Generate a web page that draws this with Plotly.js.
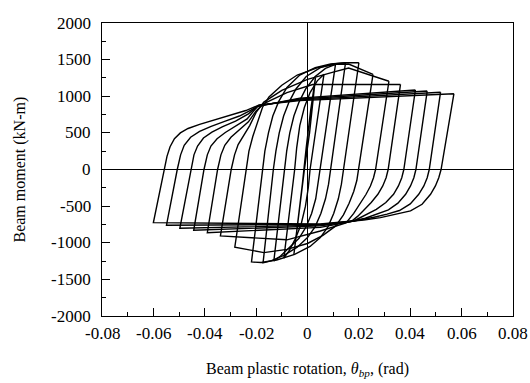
<!DOCTYPE html>
<html>
<head>
<meta charset="utf-8">
<script src="https://cdn.plot.ly/plotly-3.0.1.min.js"></script>
<style>html,body{margin:0;padding:0;background:#fff;}#chart{width:530px;height:383px;}</style>
</head>
<body>
<div id="chart"></div>
<script>
// Beam plastic rotation (rad) and beam moment (kN-m), one closed loop per cycle
// (positive peak -> descending branch -> negative peak -> ascending branch -> positive peak)
const c1Rot = [0.0031, 0.0008, -0.0012, -0.0030, -0.0053, -0.0036, -0.0020, -0.0005, 0.0012, 0.0031];
const c1Mom = [1253, 500, 0, -500, -1160, -700, -200, 300, 800, 1253];

const c2Rot = [0.0064, 0.0010, 0.0003, -0.0008, -0.0025, -0.0048, -0.0070, -0.0092, -0.0050, -0.0042, -0.0030, -0.0012, 0.0010, 0.0038, 0.0064];
const c2Mom = [1300, 0, -250, -500, -750, -950, -1100, -1210, 0, 300, 600, 850, 1050, 1210, 1300];

const c3Rot = [0.0109, 0.0050, 0.0043, 0.0032, 0.0016, -0.0005, -0.0033, -0.0070, -0.0105, -0.0131, -0.0090, -0.0081, -0.0069, -0.0053, -0.0033, -0.0007, 0.0030, 0.0070, 0.0109];
const c3Mom = [1435, 0, -200, -400, -600, -780, -940, -1070, -1180, -1247, 0, 250, 500, 730, 920, 1100, 1270, 1380, 1435];

const c4Rot = [0.0148, 0.0090, 0.0082, 0.0070, 0.0052, 0.0030, 0.0000, -0.0040, -0.0090, -0.0140, -0.0173, -0.0133, -0.0123, -0.0110, -0.0093, -0.0072, -0.0045, -0.0005, 0.0050, 0.0100, 0.0148];
const c4Mom = [1457, 0, -200, -400, -600, -780, -930, -1060, -1170, -1245, -1275, 0, 250, 500, 730, 920, 1100, 1270, 1390, 1440, 1457];

const c5Rot = [0.0200, 0.0140, 0.0132, 0.0120, 0.0102, 0.0080, 0.0050, 0.0010, -0.0050, -0.0120, -0.0180, -0.0218, -0.0176, -0.0166, -0.0152, -0.0135, -0.0112, -0.0080, -0.0030, 0.0030, 0.0090, 0.0150, 0.0200];
const c5Mom = [1457, 0, -200, -400, -600, -780, -930, -1050, -1160, -1235, -1270, -1262, 0, 250, 500, 730, 930, 1120, 1290, 1390, 1440, 1457, 1457];

const c6Rot = [0.0255, 0.0200, 0.0192, 0.0180, 0.0162, 0.0140, 0.0110, 0.0060, 0.0000, -0.0080, -0.0170, -0.0283, -0.0240, -0.0228, -0.0213, -0.0195, -0.0175, -0.0150, -0.0100, -0.0040, 0.0040, 0.0110, 0.0160, 0.0255];
const c6Mom = [1300, 0, -150, -300, -460, -620, -770, -900, -1010, -1090, -1135, -1060, 0, 250, 450, 650, 850, 990, 1150, 1290, 1390, 1435, 1440, 1300];

const c7Rot = [0.0317, 0.0265, 0.0257, 0.0245, 0.0228, 0.0205, 0.0180, 0.0150, 0.0050, -0.0080, -0.0339, -0.0297, -0.0284, -0.0270, -0.0250, -0.0225, -0.0200, -0.0170, -0.0100, 0.0000, 0.0100, 0.0160, 0.0317];
const c7Mom = [1205, 0, -112, -225, -338, -470, -600, -730, -840, -960, -907, 0, 200, 340, 460, 600, 780, 920, 1080, 1230, 1330, 1385, 1205];

const c8Rot = [0.0362, 0.0314, 0.0306, 0.0293, 0.0274, 0.0248, 0.0218, 0.0195, 0.0170, 0.0050, -0.0390, -0.0350, -0.0337, -0.0322, -0.0298, -0.0265, -0.0230, -0.0200, -0.0170, -0.0080, 0.0020, 0.0362];
const c8Mom = [1162, 0, -112, -225, -338, -450, -560, -640, -710, -790, -862, 0, 200, 330, 440, 540, 650, 800, 900, 1050, 1160, 1162];

const c9Rot = [0.0420, 0.0375, 0.0367, 0.0354, 0.0335, 0.0305, 0.0268, 0.0225, 0.0180, 0.0050, -0.0443, -0.0403, -0.0390, -0.0376, -0.0352, -0.0320, -0.0280, -0.0235, -0.0195, -0.0030, 0.0420];
const c9Mom = [1085, 0, -112, -225, -338, -450, -545, -620, -703, -770, -830, 0, 200, 320, 420, 505, 590, 690, 860, 975, 1085];

const c10Rot = [0.0466, 0.0422, 0.0414, 0.0401, 0.0382, 0.0352, 0.0315, 0.0270, 0.0225, 0.0180, 0.0050, -0.0497, -0.0455, -0.0442, -0.0428, -0.0405, -0.0372, -0.0330, -0.0280, -0.0230, -0.0192, -0.0030, 0.0466];
const c10Mom = [1071, 0, -112, -225, -338, -460, -550, -610, -665, -703, -760, -802, 0, 200, 320, 430, 510, 585, 660, 760, 868, 962, 1071];

const c11Rot = [0.0518, 0.0474, 0.0466, 0.0453, 0.0433, 0.0400, 0.0358, 0.0310, 0.0255, 0.0210, 0.0180, 0.0050, -0.0549, -0.0507, -0.0494, -0.0480, -0.0455, -0.0420, -0.0375, -0.0320, -0.0265, -0.0220, -0.0190, -0.0030, 0.0518];
const c11Mom = [1055, 0, -112, -225, -338, -470, -560, -610, -655, -688, -703, -750, -761, 0, 200, 330, 440, 520, 590, 660, 730, 810, 875, 950, 1055];

const c12Rot = [0.0570, 0.0520, 0.0511, 0.0498, 0.0479, 0.0446, 0.0401, 0.0349, 0.0284, 0.0219, 0.0180, 0.0050, -0.0600, -0.0559, -0.0547, -0.0535, -0.0518, -0.0495, -0.0465, -0.0420, -0.0360, -0.0300, -0.0240, -0.0188, -0.0030, 0.0570];
const c12Mom = [1035, 0, -112, -225, -338, -475, -566, -611, -657, -689, -703, -745, -726, 0, 180, 310, 420, 500, 560, 615, 675, 735, 805, 880, 940, 1035];

const xTickVals = [-0.08, -0.06, -0.04, -0.02, 0, 0.02, 0.04, 0.06, 0.08];
const xTickText = ['-0.08', '-0.06', '-0.04', '-0.02', '0', '0.02', '0.04', '0.06', '0.08'];
const yTickVals = [-2000, -1500, -1000, -500, 0, 500, 1000, 1500, 2000];
const yTickText = ['-2000', '-1500', '-1000', '-500', '0', '500', '1000', '1500', '2000'];
const xTitle = 'Beam plastic rotation, <i>θ</i><sub><i>bp</i></sub>, (rad)';
const yTitle = 'Beam moment (kN-m)';

const cycles = [
  [c1Rot, c1Mom], [c2Rot, c2Mom], [c3Rot, c3Mom], [c4Rot, c4Mom],
  [c5Rot, c5Mom], [c6Rot, c6Mom], [c7Rot, c7Mom], [c8Rot, c8Mom],
  [c9Rot, c9Mom], [c10Rot, c10Mom], [c11Rot, c11Mom], [c12Rot, c12Mom]
];

const traces = cycles.map(c => ({
  x: c[0], y: c[1], type: 'scatter', mode: 'lines',
  line: {color: '#000', width: 1.4, shape: 'linear'},
  showlegend: false, hoverinfo: 'skip'
}));

const SERIF = 'Liberation Serif';
const tickFont = {family: SERIF, size: 17, color: '#000'};
const titleFont = {family: SERIF, size: 16, color: '#000'};

// tick labels placed on the axes' own scales
const annotations = [];
xTickVals.forEach((v, i) => annotations.push({
  x: v, xref: 'x', y: 0, yref: 'paper', yanchor: 'top', xanchor: 'center', yshift: -6,
  text: xTickText[i], showarrow: false, font: tickFont
}));
yTickVals.forEach((v, i) => annotations.push({
  x: 0, xref: 'paper', y: v, yref: 'y', xanchor: 'right', yanchor: 'middle', xshift: -9,
  text: yTickText[i], showarrow: false, font: tickFont
}));
annotations.push({
  x: 0.5, xref: 'paper', y: 0, yref: 'paper', xanchor: 'center', yanchor: 'middle', yshift: -53,
  text: xTitle, showarrow: false, font: titleFont
});
annotations.push({
  x: 0, xref: 'paper', y: 0.5, yref: 'paper', xanchor: 'center', yanchor: 'middle', xshift: -83,
  textangle: -90, text: yTitle, showarrow: false, font: titleFont
});

const layout = {
  width: 530, height: 383,
  margin: {l: 102, r: 17, t: 23, b: 67},
  paper_bgcolor: '#fff', plot_bgcolor: '#fff',
  font: {family: SERIF, size: 16, color: '#000'},
  showlegend: false,
  annotations: annotations,
  xaxis: {
    range: [-0.08, 0.08], autorange: false,
    tickmode: 'array', tickvals: xTickVals, showticklabels: false,
    ticks: 'inside', ticklen: 8, tickwidth: 1, tickcolor: '#000',
    minor: {dtick: 0.01, tick0: 0, ticks: 'inside', ticklen: 4, tickwidth: 1, tickcolor: '#000', showgrid: false},
    showgrid: false, zeroline: true, zerolinecolor: '#000', zerolinewidth: 1,
    showline: true, linecolor: '#000', linewidth: 1, mirror: true,
    automargin: false
  },
  yaxis: {
    range: [-2000, 2000], autorange: false,
    tickmode: 'array', tickvals: yTickVals, showticklabels: false,
    ticks: 'inside', ticklen: 8, tickwidth: 1, tickcolor: '#000',
    minor: {dtick: 250, tick0: 0, ticks: 'inside', ticklen: 4, tickwidth: 1, tickcolor: '#000', showgrid: false},
    showgrid: false, zeroline: true, zerolinecolor: '#000', zerolinewidth: 1,
    showline: true, linecolor: '#000', linewidth: 1, mirror: true,
    automargin: false
  }
};

Plotly.newPlot('chart', traces, layout, {displayModeBar: false, staticPlot: true});
</script>
</body>
</html>
